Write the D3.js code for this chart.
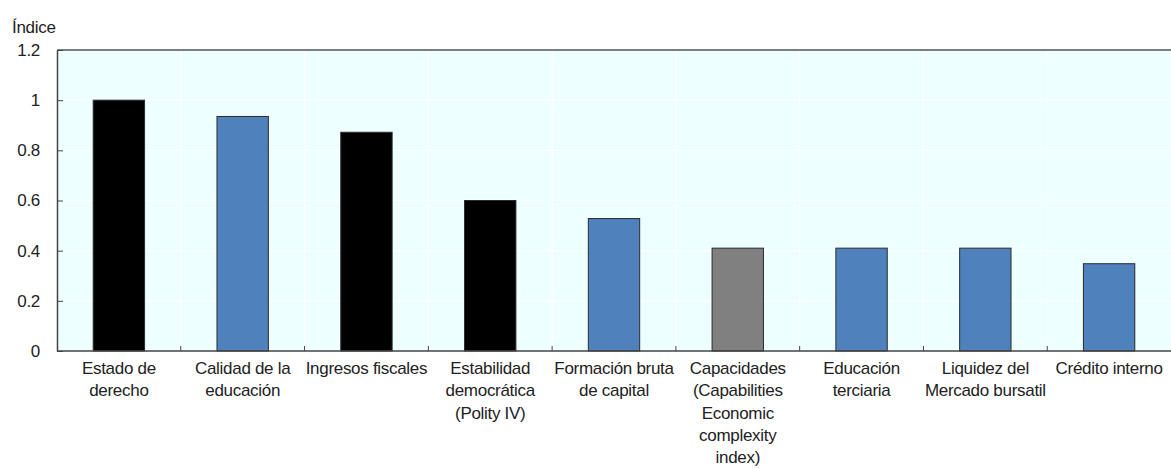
<!DOCTYPE html>
<html><head><meta charset="utf-8">
<script src="https://cdn.jsdelivr.net/npm/d3@7"></script>
<style>body{margin:0;background:#fff}svg{display:block;font-family:"Liberation Sans",Arial,sans-serif}</style>
</head><body><svg id="c" width="1171" height="469"></svg>
<script>
const categories = [
  ["Estado de","derecho"],
  ["Calidad de la","educación"],
  ["Ingresos fiscales"],
  ["Estabilidad","democrática","(Polity IV)"],
  ["Formación bruta","de capital"],
  ["Capacidades","(Capabilities","Economic","complexity","index)"],
  ["Educación","terciaria"],
  ["Liquidez del","Mercado bursatil"],
  ["Crédito interno"]
];
const values = [1.0, 0.935, 0.872, 0.6, 0.528, 0.41, 0.41, 0.41, 0.348];
const groups = ["black","blue","black","black","blue","gray","blue","blue","blue"];
const yTicks = [0, 0.2, 0.4, 0.6, 0.8, 1, 1.2];
const yTickLabels = ["0","0.2","0.4","0.6","0.8","1","1.2"];
const colorMap = {black:"#000000", blue:"#4F81BD", gray:"#808080"};

const svg = d3.select("#c");
const m = {l:57, t:50, r:1171, b:351};
const x = d3.scaleBand().domain(d3.range(categories.length)).range([m.l, m.r]).paddingInner(0.585).paddingOuter(0.2925);
const xb = d3.scaleBand().domain(d3.range(categories.length)).range([m.l, m.r]);
const y = d3.scaleLinear().domain([0, 1.2]).range([m.b, m.t]);

svg.append("rect").attr("x", m.l).attr("y", m.t).attr("width", m.r - m.l).attr("height", m.b - m.t).attr("fill", "#EEFFFF");

// grid
svg.append("g").selectAll("line").data(yTicks.slice(1)).join("line")
  .attr("x1", m.l).attr("x2", m.r).attr("y1", d => y(d)).attr("y2", d => y(d))
  .attr("stroke", "#fff").attr("stroke-width", 1.2);
svg.append("g").selectAll("line").data(d3.range(1, categories.length)).join("line")
  .attr("x1", d => xb(d)).attr("x2", d => xb(d)).attr("y1", m.t).attr("y2", m.b)
  .attr("stroke", "#fff").attr("stroke-width", 1.2);

// bars
svg.append("g").selectAll("rect").data(values).join("rect")
  .attr("x", (d, i) => x(i)).attr("width", x.bandwidth())
  .attr("y", d => y(d)).attr("height", d => y(0) - y(d))
  .attr("fill", (d, i) => colorMap[groups[i]])
  .attr("stroke", "#2b2b2b").attr("stroke-width", 1);

// top frame
svg.append("line").attr("x1", m.l).attr("x2", m.r).attr("y1", m.t).attr("y2", m.t).attr("stroke", "#555").attr("stroke-width", 1.5);

// y axis
const ya = svg.append("g").attr("transform", `translate(${m.l},0)`)
  .call(d3.axisLeft(y).tickValues(yTicks).tickFormat((d, i) => yTickLabels[i]).tickSizeInner(-6).tickSizeOuter(0).tickPadding(17));
ya.select(".domain").attr("stroke", "#444").attr("stroke-width", 1.5);
ya.selectAll(".tick line").attr("stroke", "#444");
ya.selectAll("text").attr("font-size", 17).attr("fill", "#222").attr("letter-spacing", "-0.3").attr("font-family", "Liberation Sans, Arial, sans-serif");

// x axis
const xa = svg.append("g").attr("transform", `translate(0,${m.b})`)
  .call(d3.axisBottom(xb).tickValues(d3.range(1, categories.length)).tickFormat("").tickSizeInner(-5).tickSizeOuter(0).offset(0));
xa.selectAll(".tick").attr("transform", d => `translate(${xb(d)},0)`);
xa.select(".domain").attr("stroke", "#444").attr("stroke-width", 1.5);
xa.selectAll(".tick line").attr("stroke", "#444");

// category labels
const lab = svg.append("g").selectAll("text").data(categories).join("text")
  .attr("x", (d, i) => xb(i) + xb.bandwidth() / 2).attr("y", 374)
  .attr("text-anchor", "middle").attr("font-size", 17).attr("fill", "#222").attr("letter-spacing", "-0.3");
lab.selectAll("tspan").data(d => d).join("tspan")
  .attr("x", function() { return d3.select(this.parentNode).attr("x"); })
  .attr("dy", (d, i) => i === 0 ? 0 : 22.3).text(d => d);

svg.append("text").attr("x", 12).attr("y", 33).attr("font-size", 17).attr("fill", "#222").attr("letter-spacing", "-0.3").text("Índice");
</script></body></html>
